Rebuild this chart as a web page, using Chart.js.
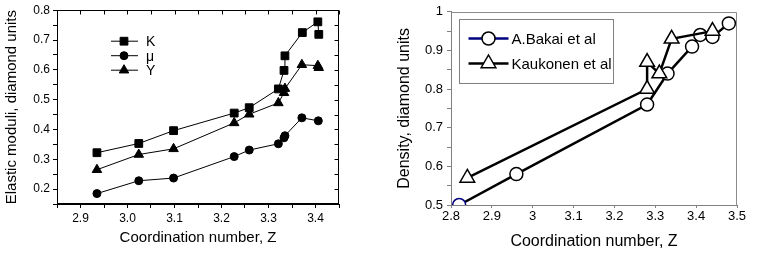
<!DOCTYPE html>
<html>
<head>
<meta charset="utf-8">
<script src="https://cdn.jsdelivr.net/npm/chart.js@4.4.1/dist/chart.umd.min.js"></script>
<style>
  html, body { margin: 0; padding: 0; background: #fff; }
  #wrap { position: relative; width: 763px; height: 254px; overflow: hidden; }
  canvas { position: absolute; top: 0; }
  #leftChart { left: 0; }
  #rightChart { left: 383px; }
</style>
</head>
<body>
<div id="wrap">
  <canvas id="leftChart" width="380" height="254"></canvas>
  <canvas id="rightChart" width="380" height="254"></canvas>
</div>
<script>
// left panel: elastic moduli vs coordination number
const kZ   = [2.935, 3.024, 3.098, 3.227, 3.259, 3.321, 3.333, 3.335, 3.372, 3.405, 3.407];
const kVal = [0.322, 0.353, 0.396, 0.455, 0.473, 0.536, 0.598, 0.647, 0.725, 0.761, 0.719];
const muZ   = [2.935, 3.024, 3.098, 3.227, 3.259, 3.321, 3.333, 3.335, 3.371, 3.406];
const muVal = [0.185, 0.228, 0.237, 0.309, 0.331, 0.352, 0.372, 0.379, 0.439, 0.429];
const yZ   = [2.935, 3.024, 3.098, 3.227, 3.259, 3.321, 3.333, 3.335, 3.371, 3.405, 3.407];
const yVal = [0.265, 0.316, 0.335, 0.422, 0.451, 0.489, 0.523, 0.537, 0.617, 0.614, 0.607];
const leftLabels = ['K', 'μ', 'Y'];

// right panel: density vs coordination number
const bakaiZ   = [2.82, 2.96, 3.28, 3.33, 3.39, 3.41, 3.44, 3.48];
const bakaiRho = [0.50, 0.58, 0.76, 0.84, 0.91, 0.94, 0.935, 0.97];
const kaukZ   = [2.84, 3.28, 3.28, 3.31, 3.34, 3.44];
const kaukRho = [0.57, 0.80, 0.87, 0.84, 0.93, 0.95];
const rightLabels = ['A.Bakai et al', 'Kaukonen et al'];

Chart.defaults.font.family = "'Liberation Sans', Arial, sans-serif";
Chart.defaults.color = '#000';

const toPts = (xs, ys) => xs.map((x, i) => ({ x: x, y: ys[i] }));
const isTenth = v => Math.abs(v * 10 - Math.round(v * 10)) < 1e-6;

function drawMarker(ctx, style, x, y, r, fill, stroke, lw) {
    ctx.beginPath();
    if (style === 'rect') {
        const s = Math.SQRT1_2 * r;
        ctx.rect(x - s, y - s, 2 * s, 2 * s);
    } else if (style === 'triangle') {
        ctx.moveTo(x, y - r);
        ctx.lineTo(x + 0.866 * r, y + 0.5 * r);
        ctx.lineTo(x - 0.866 * r, y + 0.5 * r);
        ctx.closePath();
    } else {
        ctx.arc(x, y, r, 0, Math.PI * 2);
    }
    ctx.fillStyle = fill;
    ctx.fill();
    if (lw > 0) {
        ctx.lineWidth = lw;
        ctx.strokeStyle = stroke;
        ctx.stroke();
    }
}

// frame + inward ticks on top/right for the left panel
const leftFrame = {
    id: 'leftFrame',
    afterDraw(chart) {
        const { ctx, chartArea: a, scales } = chart;
        ctx.save();
        ctx.strokeStyle = '#000';
        ctx.lineWidth = 1;
        const L = Math.round(a.left) + 0.5, R = Math.round(a.right) - 0.5;
        const T = Math.round(a.top) + 0.5, B = Math.round(a.bottom) - 0.5;
        ctx.strokeRect(L, T, R - L, B - T);
        ctx.beginPath();
        scales.y.ticks.forEach(t => {
            const py = Math.round(scales.y.getPixelForValue(t.value)) + 0.5;
            ctx.moveTo(R, py); ctx.lineTo(R - 4, py);
        });
        scales.x.ticks.forEach(t => {
            const px = Math.round(scales.x.getPixelForValue(t.value)) + 0.5;
            ctx.moveTo(px, T); ctx.lineTo(px, T + 4);
        });
        ctx.stroke();

        // legend
        ctx.font = "14px 'Liberation Sans', Arial, sans-serif";
        ctx.textBaseline = 'middle';
        chart.data.datasets.forEach((ds, i) => {
            const y = a.top + 31 + i * 14.5;
            ctx.beginPath();
            ctx.lineWidth = 1;
            ctx.strokeStyle = '#000';
            ctx.moveTo(a.left + 54, y); ctx.lineTo(a.left + 81, y);
            ctx.stroke();
            drawMarker(ctx, ds.pointStyle, a.left + 67, y, ds.pointRadius, '#000', '#000', 1);
            ctx.fillStyle = '#000';
            ctx.fillText(ds.label, a.left + 89, y + 1);
        });
        ctx.restore();
    }
};

const rightFrame = {
    id: 'rightFrame',
    afterDraw(chart) {
        const { ctx, chartArea: a } = chart;
        ctx.save();
        ctx.strokeStyle = '#8c8c8c';
        ctx.lineWidth = 1;
        const L = Math.round(a.left) + 0.5, R = Math.round(a.right) - 0.5;
        const T = Math.round(a.top) + 0.5;
        ctx.beginPath();
        ctx.moveTo(L, T); ctx.lineTo(R, T); ctx.lineTo(R, Math.round(a.bottom));
        ctx.stroke();

        // legend box
        const bx = Math.round(a.left) + 8.5, by = Math.round(a.top) + 7.5;
        ctx.fillStyle = '#fff';
        ctx.fillRect(bx, by, 154, 64);
        ctx.strokeStyle = '#808080';
        ctx.strokeRect(bx, by, 154, 64);
        ctx.font = "15px 'Liberation Sans', Arial, sans-serif";
        ctx.textBaseline = 'middle';
        const lineCols = ['#00007f', '#000'];
        chart.data.datasets.forEach((ds, i) => {
            const y = by + 19 + i * 25;
            ctx.beginPath();
            ctx.lineWidth = 2.5;
            ctx.strokeStyle = lineCols[i];
            ctx.moveTo(bx + 9, y); ctx.lineTo(bx + 49, y);
            ctx.stroke();
            drawMarker(ctx, ds.pointStyle, bx + 29, y, ds.pointRadius, '#fff', '#000', 1.5);
            ctx.fillStyle = '#000';
            ctx.fillText(ds.label, bx + 52, y + 1);
        });
        ctx.restore();
    }
};

new Chart(document.getElementById('leftChart'), {
    type: 'scatter',
    data: {
        datasets: [
            { label: leftLabels[0], data: toPts(kZ, kVal), pointStyle: 'rect', pointRadius: 5.5 },
            { label: leftLabels[1], data: toPts(muZ, muVal), pointStyle: 'circle', pointRadius: 4 },
            { label: leftLabels[2], data: toPts(yZ, yVal), pointStyle: 'triangle', pointRadius: 5.5 }
        ].map(d => Object.assign(d, {
            showLine: true, borderColor: '#000', borderWidth: 1,
            pointBackgroundColor: '#000', pointBorderColor: '#000', pointBorderWidth: 1
        }))
    },
    options: {
        responsive: false,
        animation: false,
        layout: { padding: { top: 9, right: 41, bottom: 0, left: 0 } },
        plugins: { legend: { display: false }, tooltip: { enabled: false } },
        scales: {
            x: {
                type: 'linear', min: 2.85, max: 3.45,
                grid: { drawOnChartArea: false, tickLength: 4, color: '#000' },
                border: { color: '#000' },
                ticks: { stepSize: 0.05, autoSkip: false, maxRotation: 0, padding: 3,
                    font: { size: 12 }, callback: v => isTenth(v) ? v.toFixed(1) : '' },
                title: { display: true, text: 'Coordination number, Z', font: { size: 15 },
                    padding: { top: 0, bottom: 7 } },
                afterFit: s => { s.height = 50; }
            },
            y: {
                type: 'linear', min: 0.15, max: 0.8,
                grid: { drawOnChartArea: false, tickLength: 4, color: '#000' },
                border: { color: '#000' },
                ticks: { stepSize: 0.05, autoSkip: false, padding: 3,
                    font: { size: 12 }, callback: v => isTenth(v) ? v.toFixed(1) : '' },
                title: { display: true, text: 'Elastic moduli, diamond units', font: { size: 15 },
                    padding: { top: 3, bottom: 0 } },
                afterFit: s => { s.width = 57; }
            }
        }
    },
    plugins: [leftFrame]
});

const firstNavy = bakaiZ.map((z, i) => i === 0 ? '#00007f' : '#000');

new Chart(document.getElementById('rightChart'), {
    type: 'scatter',
    data: {
        datasets: [
            { label: rightLabels[0], data: toPts(bakaiZ, bakaiRho), pointStyle: 'circle', pointRadius: 6.5,
              pointBorderColor: firstNavy, order: 1 },
            { label: rightLabels[1], data: toPts(kaukZ, kaukRho), pointStyle: 'triangle', pointRadius: 8.5,
              pointBorderColor: '#000', order: 0 }
        ].map(d => Object.assign(d, {
            showLine: true, borderColor: '#000', borderWidth: 2.5,
            pointBackgroundColor: '#fff', pointBorderWidth: 1.5
        }))
    },
    options: {
        responsive: false,
        animation: false,
        layout: { padding: { top: 9, right: 26, bottom: 0, left: 0 } },
        plugins: { legend: { display: false }, tooltip: { enabled: false } },
        scales: {
            x: {
                type: 'linear', min: 2.8, max: 3.5,
                grid: { drawOnChartArea: false, tickLength: 3, color: '#808080' },
                border: { color: '#808080' },
                ticks: { stepSize: 0.1, autoSkip: false, maxRotation: 0, padding: 1,
                    font: { size: 13 }, callback: v => String(Number(v.toFixed(1))) },
                title: { display: true, text: 'Coordination number, Z', font: { size: 16 },
                    padding: { top: 0, bottom: 3 } },
                afterFit: s => { s.height = 49; }
            },
            y: {
                type: 'linear', min: 0.5, max: 1,
                grid: { drawOnChartArea: false, tickLength: 4, color: '#808080' },
                border: { color: '#808080' },
                ticks: { stepSize: 0.05, autoSkip: false, padding: 4,
                    font: { size: 13 }, callback: v => isTenth(v) ? String(Number(v.toFixed(1))) : '' },
                title: { display: true, text: 'Density, diamond units', font: { size: 16 },
                    padding: { top: 12, bottom: 0 } },
                afterFit: s => { s.width = 68; }
            }
        }
    },
    plugins: [rightFrame]
});
</script>
</body>
</html>
